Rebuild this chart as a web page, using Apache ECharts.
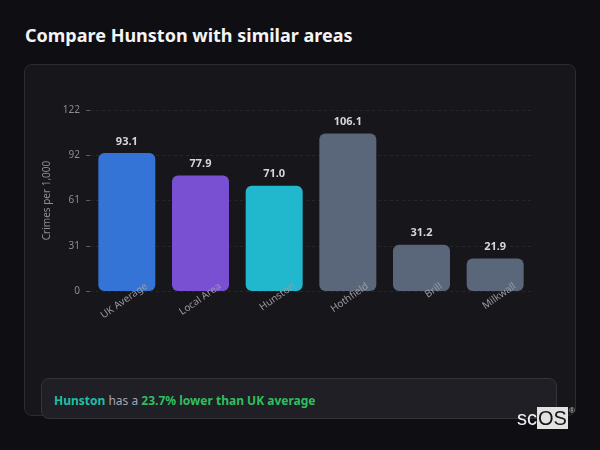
<!DOCTYPE html>
<html>
<head>
<meta charset="utf-8">
<script src="https://cdn.jsdelivr.net/npm/echarts@6/dist/echarts.min.js"></script>
<style>
  html, body { margin: 0; padding: 0; width: 600px; height: 450px; background: #0f0e13; overflow: hidden; font-family: "Noto Sans", sans-serif; }
  #title { position: absolute; left: 25px; top: 23px; font-size: 18px; font-weight: bold; color: #f4f4f6; white-space: nowrap; }
  #card { position: absolute; left: 24px; top: 64px; width: 550px; height: 350px; background: #17161b; border: 1px solid #2c2b32; border-radius: 8px; }
  #info { position: absolute; left: 41px; top: 378px; width: 516px; height: 41px; background: #201f25; border: 1px solid #35343b; border-radius: 8px; box-sizing: border-box; }
  #infotext { position: absolute; left: 12px; top: 13px; font-size: 12px; white-space: nowrap; color: #a5a5ab; }
  #infotext .place { color: #1fbfa5; font-weight: bold; }
  #infotext .diff { color: #2fbf5f; font-weight: bold; }
  #chart { position: absolute; left: 0; top: 0; width: 600px; height: 450px; }
  #logo { position: absolute; left: 517px; top: 408px; height: 20px; font-family: "Liberation Sans", Arial, sans-serif; font-size: 20px; line-height: 20px; white-space: nowrap; }
  #logo .sc { color: #f2f2f2; }
  #logo .os { color: #151515; background: #e2e2e2; padding: 0 1px; }
  #logo .r { position: absolute; left: 52px; top: -1px; font-size: 8px; line-height: 8px; color: #c8c8c8; }
</style>
</head>
<body>
<div id="title">Compare Hunston with similar areas</div>
<div id="card"></div>
<div id="chart"></div>
<div id="info"><div id="infotext"><span class="place">Hunston</span> has a <span class="diff">23.7% lower than UK average</span></div></div>
<div id="logo"><span class="sc">sc</span><span class="os">OS</span><span class="r">®</span></div>
<script>
const categories = ["UK Average", "Local Area", "Hunston", "Hothfield", "Brill", "Milkwall"];
const crimeRates = [93.1, 77.9, 71.0, 106.1, 31.2, 21.9];
const barColors = ["#3474d7", "#7a50d3", "#21b7cd", "#5a6679", "#5a6679", "#5a6679"];
const yAxisMax = 122;
const yAxisInterval = 30.5;

const chart = echarts.init(document.getElementById('chart'), null, { renderer: 'canvas' });
chart.setOption({
  backgroundColor: 'transparent',
  animation: false,
  textStyle: { fontFamily: 'Noto Sans' },
  grid: { left: 90, right: 68, top: 110, bottom: 159, containLabel: false },
  xAxis: {
    type: 'category',
    data: categories,
    z: 5,
    axisLine: { show: false },
    axisTick: { show: false },
    axisLabel: {
      rotate: 35,
      color: '#9a9aa0',
      fontSize: 10,
      margin: 8,
      interval: 0,
      padding: [0, -24, 0, 0]
    }
  },
  yAxis: {
    type: 'value',
    min: 0,
    max: yAxisMax,
    interval: yAxisInterval,
    name: 'Crimes per 1,000',
    nameLocation: 'middle',
    nameGap: 30,
    nameTextStyle: { color: '#8c8c93', fontSize: 10 },
    axisLine: { show: false },
    axisTick: { show: true, length: 4, lineStyle: { color: '#5a5a60' } },
    axisLabel: {
      color: '#8c8c93',
      fontSize: 10,
      margin: 10,
      formatter: v => String(Math.round(v))
    },
    splitLine: { show: true, lineStyle: { color: 'rgba(255,255,255,0.07)', type: [3, 3] } }
  },
  series: [{
    type: 'bar',
    data: crimeRates.map((v, i) => ({ value: v, itemStyle: { color: barColors[i] } })),
    barWidth: 57,
    itemStyle: { borderRadius: 6 },
    label: {
      show: true,
      position: 'top',
      distance: 6,
      color: '#d6d6da',
      fontSize: 11,
      fontWeight: 'bold',
      formatter: p => p.value.toFixed(1)
    }
  }]
});
</script>
</body>
</html>
